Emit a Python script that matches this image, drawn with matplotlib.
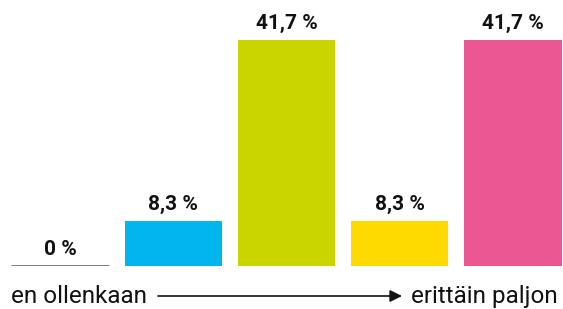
import matplotlib.pyplot as plt

# data
categories = ["1", "2", "3", "4", "5"]
values = [0, 8.3, 41.7, 8.3, 41.7]
labels = ["0 %", "8,3 %", "41,7 %", "8,3 %", "41,7 %"]
colors = ["#555555", "#00b6ed", "#cad500", "#ffda00", "#eb5791"]

plt.rcParams['font.family'] = ['Roboto', 'DejaVu Sans']

fig = plt.figure(figsize=(5.63, 3.09), dpi=100)
ax = fig.add_axes([0, 43.5 / 309, 1, 265.5 / 309])

x = list(range(len(values)))
w = 0.86
ax.bar(x, values, width=w, color=colors)

# zero values get a thin baseline instead of a bar
for xi, v, c in zip(x, values, colors):
    if v == 0:
        ax.hlines(0, xi - w / 2, xi + w / 2, color=c, linewidth=1.8)

for xi, v, lab in zip(x, values, labels):
    ax.text(xi, v + 2.0, lab, ha='center', va='baseline', fontsize=15,
            fontweight='bold', color='#111111')

ax.set_xlim(-0.530, 4.443)
ax.set_ylim(0, 41.7 * 265.5 / 225.5)
ax.axis('off')

fig.text(11 / 563, 1 - 303 / 309, "en ollenkaan", ha='left', va='baseline',
         fontsize=17.5, color='#111111')
fig.text(558 / 563, 1 - 303 / 309, "erittäin paljon", ha='right', va='baseline',
         fontsize=17.5, color='#111111')
ax_arrow = fig.add_axes([0, 0, 1, 1], facecolor='none')
ax_arrow.set_xlim(0, 563)
ax_arrow.set_ylim(309, 0)
ax_arrow.axis('off')
ax_arrow.annotate("", xy=(402, 296), xytext=(158, 296),
                  arrowprops=dict(arrowstyle='-|>', color='#111111', lw=1.2,
                                  mutation_scale=18, shrinkA=0, shrinkB=0))

fig.savefig('out.png', dpi=100)
